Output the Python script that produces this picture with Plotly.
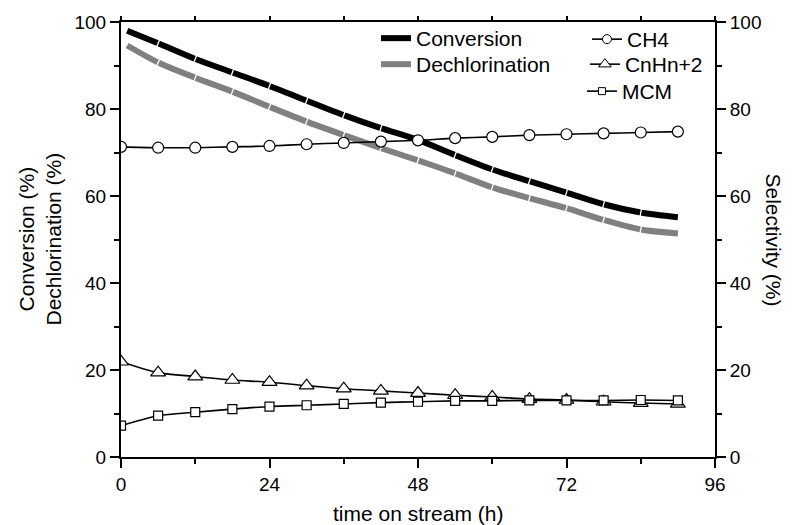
import math
import plotly.graph_objects as go

# Time on stream (h)
conv_time = [1, 6, 12, 18, 24, 30, 36, 42, 48, 54, 60, 66, 72, 78, 84, 90]
sel_time = [0, 6, 12, 18, 24, 30, 36, 42, 48, 54, 60, 66, 72, 78, 84, 90]

# Left axis: conversion and dechlorination (%)
conversion = [98.0, 95.1, 91.5, 88.4, 85.3, 81.9, 78.6, 75.6, 72.9, 69.4, 66.1, 63.4, 60.8, 58.1, 56.2, 55.1]
dechlorination = [94.6, 90.7, 87.2, 84.0, 80.5, 77.1, 74.0, 71.0, 68.2, 65.2, 62.0, 59.5, 57.2, 54.5, 52.3, 51.4]

# Right axis: selectivity (%)
ch4 = [71.3, 71.1, 71.1, 71.3, 71.5, 71.9, 72.2, 72.5, 72.8, 73.3, 73.6, 74.0, 74.2, 74.4, 74.6, 74.8]
cnhn2 = [21.9, 19.4, 18.5, 17.7, 17.2, 16.4, 15.7, 15.2, 14.7, 14.2, 13.8, 13.3, 13.1, 12.7, 12.4, 12.2]
mcm = [7.2, 9.5, 10.3, 11.0, 11.6, 11.9, 12.2, 12.5, 12.7, 12.9, 12.9, 13.0, 13.0, 13.0, 13.1, 13.0]

x_ticks = [0, 24, 48, 72, 96]
y_ticks = [0, 20, 40, 60, 80, 100]

FONT = "Arial, Liberation Sans, sans-serif"
TICK_SIZE = 19
TITLE_SIZE = 21

W, H = 792, 525
M_L, M_R, M_T, M_B = 121, 77, 22, 68
PX_X = (W - M_L - M_R) / 96.0    # pixels per hour
PX_Y = (H - M_T - M_B) / 100.0   # pixels per percent


def joint_angles(xs, ys):
    """Screen-space direction (deg, clockwise) of a curve at its interior points."""
    out = []
    for i in range(1, len(xs) - 1):
        dx = (xs[i + 1] - xs[i - 1]) * PX_X
        dy = -(ys[i + 1] - ys[i - 1]) * PX_Y
        out.append(math.degrees(math.atan2(dy, dx)))
    return out


fig = go.Figure()

# Thick curves on the left axis, drawn piecewise with a thin break at each joint
thick = [("Conversion", conversion, "black", "legend"),
         ("Dechlorination", dechlorination, "#808080", "legend2")]
for name, vals, color, leg in thick:
    fig.add_trace(go.Scatter(x=conv_time, y=vals, mode="lines", name=name, legend=leg,
                             line=dict(color=color, width=6, shape="spline", smoothing=0.8)))
    fig.add_trace(go.Scatter(x=conv_time[1:-1], y=vals[1:-1], mode="markers", showlegend=False,
                             hoverinfo="skip",
                             marker=dict(symbol="line-ns", size=8, angle=joint_angles(conv_time, vals),
                                         color="white", line=dict(color="white", width=1.3))))

# Selectivity curves with open markers on the right axis
sel_series = [
    ("CH4", ch4, "circle", 11, "legend3"),
    ("CnHn+2", cnhn2, "triangle-up", 13, "legend4"),
    ("MCM", mcm, "square", 9, "legend5"),
]
for name, vals, sym, size, leg in sel_series:
    fig.add_trace(go.Scatter(x=sel_time, y=vals, mode="lines+markers", name=name,
                             yaxis="y2", showlegend=False,
                             line=dict(color="black", width=1.6, shape="spline", smoothing=0.8),
                             marker=dict(symbol=sym, size=size, color="white",
                                         line=dict(color="black", width=1.2))))
# Legend entries for the selectivity series (smaller symbols)
for name, vals, sym, size, leg in sel_series:
    fig.add_trace(go.Scatter(x=[None], y=[None], mode="lines+markers", name=name,
                             yaxis="y2", legend=leg,
                             line=dict(color="black", width=1.6),
                             marker=dict(symbol=sym, size=size - 2, color="white",
                                         line=dict(color="black", width=1))))

axis_common = dict(showline=True, linecolor="black", linewidth=2, showgrid=False,
                   zeroline=False, ticks="outside", ticklen=9, tickwidth=1.5, tickcolor="black",
                   tickfont=dict(family=FONT, size=TICK_SIZE, color="black"))


def legend_box(x, y):
    return dict(x=x, y=y, xanchor="left", yanchor="top", bgcolor="rgba(0,0,0,0)",
                font=dict(family=FONT, size=TITLE_SIZE, color="black"))


fig.update_layout(
    width=W, height=H,
    margin=dict(l=M_L, r=M_R, t=M_T, b=M_B),
    paper_bgcolor="white", plot_bgcolor="white",
    font=dict(family=FONT, size=TITLE_SIZE, color="black"),
    xaxis=dict(range=[0, 96], tickvals=x_ticks, ticktext=[str(v) for v in x_ticks],
               minor=dict(dtick=12, ticklen=5, tickwidth=1.5, tickcolor="black", ticks="outside"),
               **axis_common),
    xaxis2=dict(range=[0, 96], overlaying="x", side="top", showline=True, linecolor="black",
                linewidth=2, showgrid=False, zeroline=False, ticks="outside", ticklen=4,
                tickwidth=1.5, tickcolor="black", dtick=12, tick0=0, showticklabels=False),
    yaxis=dict(range=[0, 100], tickvals=y_ticks, ticktext=[str(v) for v in y_ticks],
               minor=dict(dtick=10, ticklen=5, tickwidth=1.5, tickcolor="black", ticks="outside"),
               **axis_common),
    yaxis2=dict(range=[0, 100], overlaying="y", side="right", tickvals=y_ticks,
                ticktext=[str(v) for v in y_ticks],
                minor=dict(dtick=10, ticklen=5, tickwidth=1.5, tickcolor="black", ticks="outside"),
                **axis_common),
    legend=legend_box(0.4293, 1.0092),
    legend2=legend_box(0.4293, 0.9494),
    legend3=legend_box(0.7845, 1.0069),
    legend4=legend_box(0.781, 0.9494),
    legend5=legend_box(0.776, 0.8874),
    annotations=[
        dict(text="time on stream (h)", xref="paper", yref="paper", x=0.5, y=0,
             xanchor="center", yanchor="middle", yshift=-56, showarrow=False,
             font=dict(family=FONT, size=TITLE_SIZE, color="black")),
        dict(text="Conversion (%)<br>Dechlorination (%)", xref="paper", yref="paper",
             x=0, y=0.5, xanchor="center", yanchor="middle", xshift=-82, textangle=-90,
             showarrow=False, font=dict(family=FONT, size=TITLE_SIZE, color="black")),
        dict(text="Selectivity (%)", xref="paper", yref="paper", x=1, y=0.5,
             xanchor="center", yanchor="middle", xshift=58, textangle=90,
             showarrow=False, font=dict(family=FONT, size=TITLE_SIZE, color="black")),
    ],
)

# Invisible trace to activate the top mirror axis
fig.add_trace(go.Scatter(x=[None], y=[None], xaxis="x2", showlegend=False, hoverinfo="skip"))

fig.write_html("out.html")
